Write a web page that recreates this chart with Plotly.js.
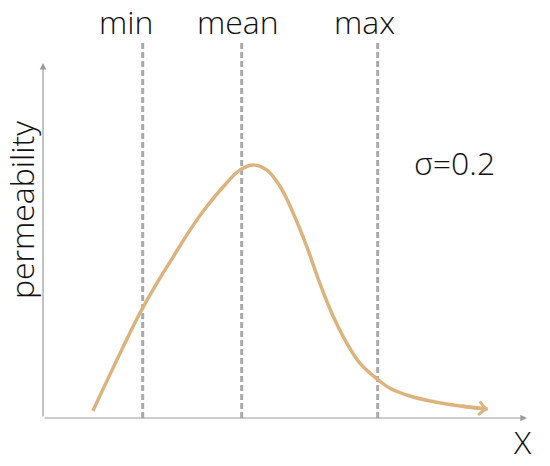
<!DOCTYPE html>
<html>
<head>
<meta charset="utf-8">
<script src="https://cdn.plot.ly/plotly-3.0.1.min.js"></script>
<style>html,body{margin:0;padding:0;background:#fff;}#chart{width:550px;height:466px;}</style>
</head>
<body>
<div id="chart"></div>
<script>
// Curve samples (x in arbitrary units 0..10, y permeability 0..1)
var curveX = [1.03, 2.00, 2.35, 2.69, 3.04, 3.38, 3.73, 4.07, 4.35, 4.62, 4.90, 5.17, 5.45, 5.72, 6.00, 6.28, 6.55, 6.93, 7.17, 7.58, 8.00, 8.62, 9.19];
var curveY = [0.020, 0.295, 0.379, 0.454, 0.530, 0.595, 0.652, 0.699, 0.713, 0.699, 0.652, 0.577, 0.483, 0.379, 0.285, 0.210, 0.154, 0.107, 0.084, 0.062, 0.048, 0.034, 0.025];
// Reference markers
var markerNames = ["min", "mean", "max"];
var markerX = [2.06, 4.105, 6.915];
var markerTop = 1.056;
var sigmaLabel = "σ=0.2";
var xLabel = "X";
var yLabel = "permeability";

var curveColor = "#ddb37d";
var axisColor = "#9a9a9a";
var textFont = {family: "Open Sans, Noto Sans, sans-serif", size: 32, color: "#111111", weight: 300};

var traces = [];
markerX.forEach(function (v) {
  traces.push({
    x: [v, v], y: [0, markerTop], mode: "lines", cliponaxis: false, hoverinfo: "skip",
    line: {color: "#a9a9a9", width: 3, dash: "6px,3px"}
  });
});
traces.push({
  x: curveX, y: curveY, mode: "lines", cliponaxis: false,
  line: {color: curveColor, width: 3.5, shape: "spline", smoothing: 1}
});

var n = curveX.length;
var annotations = [
  // axes with arrowheads
  {x: 10, y: 0, ax: 0, ay: 0, xref: "x", yref: "y", axref: "x", ayref: "y", showarrow: true,
   arrowhead: 2, arrowsize: 1.1, arrowwidth: 1.2, arrowcolor: axisColor, text: ""},
  {x: 0, y: 1, ax: 0, ay: 0, xref: "x", yref: "y", axref: "x", ayref: "y", showarrow: true,
   arrowhead: 2, arrowsize: 1.1, arrowwidth: 1.2, arrowcolor: axisColor, text: ""},
  // curve arrow head
  {x: curveX[n - 1], y: curveY[n - 1], ax: curveX[n - 2], ay: curveY[n - 2], xref: "x", yref: "y",
   axref: "x", ayref: "y", showarrow: true, arrowhead: 4, arrowsize: 0.75, arrowwidth: 3.5,
   arrowcolor: curveColor, text: ""},
  {x: 1.71, y: 1.0, xref: "x", yref: "paper", xanchor: "center", yanchor: "middle", yshift: 7, text: markerNames[0], showarrow: false, font: textFont},
  {x: 4.03, y: 1.0, xref: "x", yref: "paper", xanchor: "center", yanchor: "middle", yshift: 7, text: markerNames[1], showarrow: false, font: textFont},
  {x: 6.65, y: 1.0, xref: "x", yref: "paper", xanchor: "center", yanchor: "middle", yshift: 7, text: markerNames[2], showarrow: false, font: textFont},
  {x: 8.51, y: 0.72, xref: "x", yref: "y", xanchor: "center", yanchor: "middle", text: sigmaLabel, showarrow: false, font: textFont},
  {x: 0.9897, y: -0.059, xref: "paper", yref: "paper", xanchor: "center", yanchor: "middle", text: xLabel, showarrow: false, font: textFont},
  {x: -0.0455, y: 0.533, xref: "paper", yref: "paper", xanchor: "center", yanchor: "middle", text: yLabel, textangle: -90, showarrow: false, font: textFont}
];

var layout = {
  width: 550, height: 466,
  margin: {l: 43, r: 23, t: 28, b: 48},
  paper_bgcolor: "#ffffff", plot_bgcolor: "#ffffff",
  showlegend: false,
  xaxis: {range: [0, 10], showgrid: false, zeroline: false, showticklabels: false, showline: false, ticks: "", fixedrange: true},
  yaxis: {range: [0, 1.0986], showgrid: false, zeroline: false, showticklabels: false, showline: false, ticks: "", fixedrange: true},
  annotations: annotations
};

Plotly.newPlot("chart", traces, layout, {staticPlot: true});
</script>
</body>
</html>
